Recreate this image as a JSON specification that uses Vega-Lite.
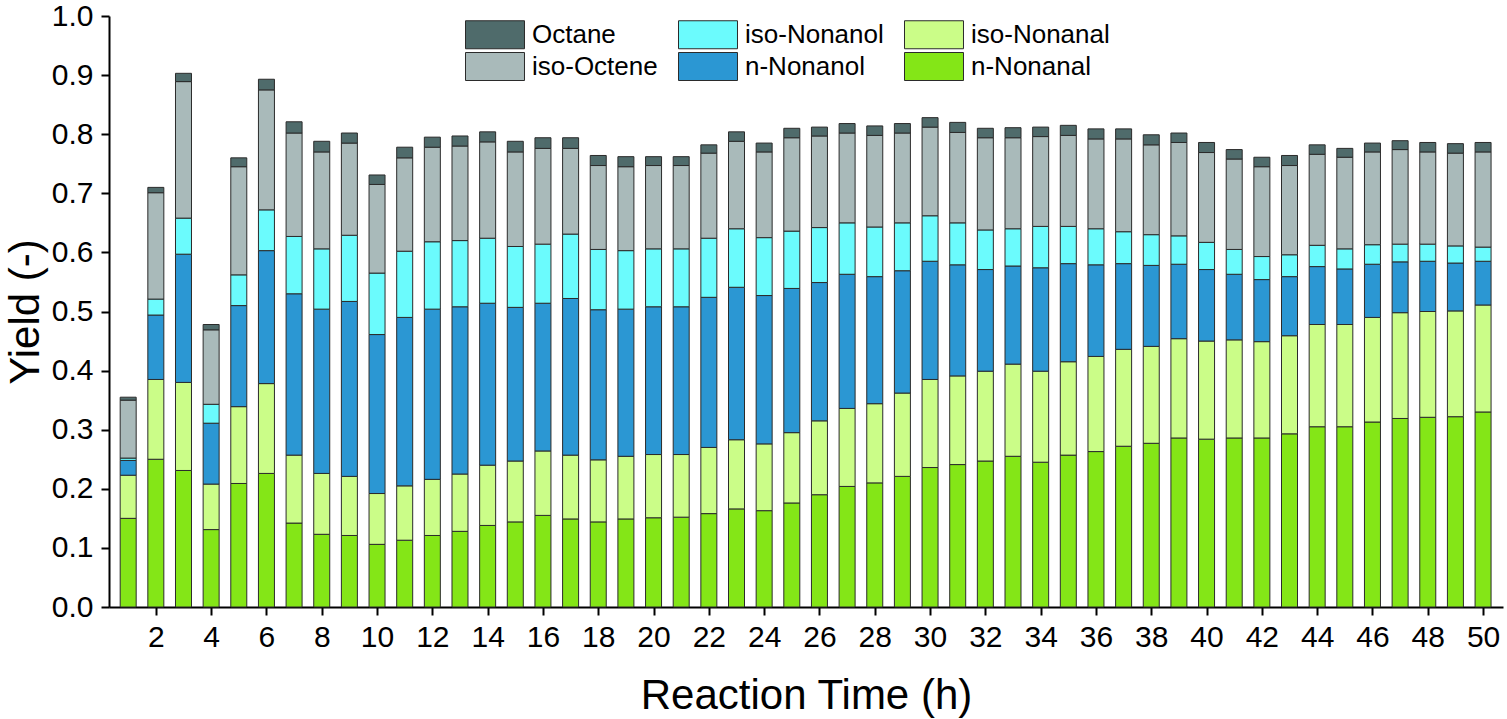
{
  "$schema": "https://vega.github.io/schema/vega-lite/v6.json",
  "description": "Product yields over reaction time, stacked by component.",
  "width": 1394,
  "height": 591,
  "autosize": {"type": "none"},
  "padding": {"left": 109, "top": 16, "right": 4, "bottom": 112},
  "background": "white",
  "datasets": {
    "rank": [
      {"c": "n-Nonanal", "rank": 1},
      {"c": "iso-Nonanal", "rank": 2},
      {"c": "n-Nonanol", "rank": 3},
      {"c": "iso-Nonanol", "rank": 4},
      {"c": "iso-Octene", "rank": 5},
      {"c": "Octane", "rank": 6}
    ]
  },
  "data": {
    "values": [
      {"t": 1, "n-Nonanal": 0.150, "iso-Nonanal": 0.073, "n-Nonanol": 0.025, "iso-Nonanol": 0.004, "iso-Octene": 0.098, "Octane": 0.005},
      {"t": 2, "n-Nonanal": 0.250, "iso-Nonanal": 0.135, "n-Nonanol": 0.109, "iso-Nonanol": 0.027, "iso-Octene": 0.180, "Octane": 0.009},
      {"t": 3, "n-Nonanal": 0.231, "iso-Nonanal": 0.149, "n-Nonanol": 0.217, "iso-Nonanol": 0.061, "iso-Octene": 0.231, "Octane": 0.014},
      {"t": 4, "n-Nonanal": 0.131, "iso-Nonanal": 0.077, "n-Nonanol": 0.103, "iso-Nonanol": 0.032, "iso-Octene": 0.126, "Octane": 0.009},
      {"t": 5, "n-Nonanal": 0.209, "iso-Nonanal": 0.130, "n-Nonanol": 0.171, "iso-Nonanol": 0.052, "iso-Octene": 0.183, "Octane": 0.015},
      {"t": 6, "n-Nonanal": 0.226, "iso-Nonanal": 0.152, "n-Nonanol": 0.225, "iso-Nonanol": 0.069, "iso-Octene": 0.203, "Octane": 0.018},
      {"t": 7, "n-Nonanal": 0.142, "iso-Nonanal": 0.115, "n-Nonanol": 0.273, "iso-Nonanol": 0.097, "iso-Octene": 0.175, "Octane": 0.019},
      {"t": 8, "n-Nonanal": 0.123, "iso-Nonanal": 0.103, "n-Nonanol": 0.278, "iso-Nonanol": 0.102, "iso-Octene": 0.164, "Octane": 0.018},
      {"t": 9, "n-Nonanal": 0.121, "iso-Nonanal": 0.100, "n-Nonanol": 0.296, "iso-Nonanol": 0.112, "iso-Octene": 0.156, "Octane": 0.017},
      {"t": 10, "n-Nonanal": 0.106, "iso-Nonanal": 0.086, "n-Nonanol": 0.269, "iso-Nonanol": 0.104, "iso-Octene": 0.150, "Octane": 0.016},
      {"t": 11, "n-Nonanal": 0.113, "iso-Nonanal": 0.092, "n-Nonanol": 0.285, "iso-Nonanol": 0.112, "iso-Octene": 0.158, "Octane": 0.018},
      {"t": 12, "n-Nonanal": 0.121, "iso-Nonanal": 0.095, "n-Nonanol": 0.288, "iso-Nonanol": 0.114, "iso-Octene": 0.160, "Octane": 0.017},
      {"t": 13, "n-Nonanal": 0.128, "iso-Nonanal": 0.097, "n-Nonanol": 0.283, "iso-Nonanol": 0.112, "iso-Octene": 0.160, "Octane": 0.017},
      {"t": 14, "n-Nonanal": 0.138, "iso-Nonanal": 0.102, "n-Nonanol": 0.274, "iso-Nonanol": 0.110, "iso-Octene": 0.163, "Octane": 0.017},
      {"t": 15, "n-Nonanal": 0.144, "iso-Nonanal": 0.103, "n-Nonanol": 0.260, "iso-Nonanol": 0.103, "iso-Octene": 0.160, "Octane": 0.018},
      {"t": 16, "n-Nonanal": 0.155, "iso-Nonanal": 0.109, "n-Nonanol": 0.250, "iso-Nonanol": 0.100, "iso-Octene": 0.162, "Octane": 0.018},
      {"t": 17, "n-Nonanal": 0.149, "iso-Nonanal": 0.108, "n-Nonanol": 0.265, "iso-Nonanol": 0.109, "iso-Octene": 0.145, "Octane": 0.018},
      {"t": 18, "n-Nonanal": 0.144, "iso-Nonanal": 0.105, "n-Nonanol": 0.254, "iso-Nonanol": 0.102, "iso-Octene": 0.142, "Octane": 0.017},
      {"t": 19, "n-Nonanal": 0.149, "iso-Nonanal": 0.106, "n-Nonanol": 0.249, "iso-Nonanol": 0.099, "iso-Octene": 0.142, "Octane": 0.017},
      {"t": 20, "n-Nonanal": 0.151, "iso-Nonanal": 0.107, "n-Nonanol": 0.250, "iso-Nonanol": 0.098, "iso-Octene": 0.141, "Octane": 0.015},
      {"t": 21, "n-Nonanal": 0.152, "iso-Nonanal": 0.106, "n-Nonanol": 0.250, "iso-Nonanol": 0.098, "iso-Octene": 0.141, "Octane": 0.015},
      {"t": 22, "n-Nonanal": 0.158, "iso-Nonanal": 0.112, "n-Nonanol": 0.254, "iso-Nonanol": 0.100, "iso-Octene": 0.144, "Octane": 0.014},
      {"t": 23, "n-Nonanal": 0.166, "iso-Nonanal": 0.117, "n-Nonanol": 0.258, "iso-Nonanol": 0.099, "iso-Octene": 0.148, "Octane": 0.016},
      {"t": 24, "n-Nonanal": 0.163, "iso-Nonanal": 0.113, "n-Nonanol": 0.251, "iso-Nonanol": 0.098, "iso-Octene": 0.145, "Octane": 0.015},
      {"t": 25, "n-Nonanal": 0.176, "iso-Nonanal": 0.119, "n-Nonanol": 0.244, "iso-Nonanol": 0.097, "iso-Octene": 0.158, "Octane": 0.016},
      {"t": 26, "n-Nonanal": 0.190, "iso-Nonanal": 0.125, "n-Nonanol": 0.234, "iso-Nonanol": 0.093, "iso-Octene": 0.155, "Octane": 0.015},
      {"t": 27, "n-Nonanal": 0.204, "iso-Nonanal": 0.132, "n-Nonanol": 0.227, "iso-Nonanol": 0.087, "iso-Octene": 0.152, "Octane": 0.016},
      {"t": 28, "n-Nonanal": 0.210, "iso-Nonanal": 0.134, "n-Nonanol": 0.215, "iso-Nonanol": 0.084, "iso-Octene": 0.155, "Octane": 0.016},
      {"t": 29, "n-Nonanal": 0.221, "iso-Nonanal": 0.141, "n-Nonanol": 0.207, "iso-Nonanol": 0.081, "iso-Octene": 0.152, "Octane": 0.016},
      {"t": 30, "n-Nonanal": 0.236, "iso-Nonanal": 0.149, "n-Nonanol": 0.200, "iso-Nonanol": 0.077, "iso-Octene": 0.150, "Octane": 0.016},
      {"t": 31, "n-Nonanal": 0.241, "iso-Nonanal": 0.150, "n-Nonanol": 0.188, "iso-Nonanol": 0.071, "iso-Octene": 0.153, "Octane": 0.017},
      {"t": 32, "n-Nonanal": 0.247, "iso-Nonanal": 0.152, "n-Nonanol": 0.172, "iso-Nonanol": 0.067, "iso-Octene": 0.156, "Octane": 0.016},
      {"t": 33, "n-Nonanal": 0.255, "iso-Nonanal": 0.156, "n-Nonanol": 0.166, "iso-Nonanol": 0.063, "iso-Octene": 0.154, "Octane": 0.017},
      {"t": 34, "n-Nonanal": 0.245, "iso-Nonanal": 0.154, "n-Nonanol": 0.175, "iso-Nonanol": 0.070, "iso-Octene": 0.152, "Octane": 0.016},
      {"t": 35, "n-Nonanal": 0.257, "iso-Nonanal": 0.158, "n-Nonanol": 0.166, "iso-Nonanol": 0.063, "iso-Octene": 0.154, "Octane": 0.017},
      {"t": 36, "n-Nonanal": 0.263, "iso-Nonanal": 0.161, "n-Nonanol": 0.155, "iso-Nonanol": 0.061, "iso-Octene": 0.152, "Octane": 0.017},
      {"t": 37, "n-Nonanal": 0.272, "iso-Nonanal": 0.164, "n-Nonanol": 0.145, "iso-Nonanol": 0.054, "iso-Octene": 0.157, "Octane": 0.017},
      {"t": 38, "n-Nonanal": 0.277, "iso-Nonanal": 0.164, "n-Nonanol": 0.137, "iso-Nonanol": 0.052, "iso-Octene": 0.152, "Octane": 0.017},
      {"t": 39, "n-Nonanal": 0.286, "iso-Nonanal": 0.168, "n-Nonanol": 0.126, "iso-Nonanol": 0.048, "iso-Octene": 0.158, "Octane": 0.016},
      {"t": 40, "n-Nonanal": 0.284, "iso-Nonanal": 0.166, "n-Nonanol": 0.121, "iso-Nonanol": 0.046, "iso-Octene": 0.152, "Octane": 0.017},
      {"t": 41, "n-Nonanal": 0.286, "iso-Nonanal": 0.166, "n-Nonanol": 0.111, "iso-Nonanol": 0.042, "iso-Octene": 0.153, "Octane": 0.016},
      {"t": 42, "n-Nonanal": 0.286, "iso-Nonanal": 0.163, "n-Nonanol": 0.105, "iso-Nonanol": 0.039, "iso-Octene": 0.152, "Octane": 0.016},
      {"t": 43, "n-Nonanal": 0.293, "iso-Nonanal": 0.166, "n-Nonanol": 0.100, "iso-Nonanol": 0.037, "iso-Octene": 0.151, "Octane": 0.017},
      {"t": 44, "n-Nonanal": 0.305, "iso-Nonanal": 0.173, "n-Nonanol": 0.098, "iso-Nonanol": 0.036, "iso-Octene": 0.154, "Octane": 0.016},
      {"t": 45, "n-Nonanal": 0.305, "iso-Nonanal": 0.173, "n-Nonanol": 0.094, "iso-Nonanol": 0.034, "iso-Octene": 0.155, "Octane": 0.015},
      {"t": 46, "n-Nonanal": 0.313, "iso-Nonanal": 0.177, "n-Nonanol": 0.090, "iso-Nonanol": 0.033, "iso-Octene": 0.157, "Octane": 0.015},
      {"t": 47, "n-Nonanal": 0.319, "iso-Nonanal": 0.179, "n-Nonanol": 0.086, "iso-Nonanol": 0.030, "iso-Octene": 0.160, "Octane": 0.015},
      {"t": 48, "n-Nonanal": 0.321, "iso-Nonanal": 0.179, "n-Nonanol": 0.085, "iso-Nonanol": 0.029, "iso-Octene": 0.156, "Octane": 0.016},
      {"t": 49, "n-Nonanal": 0.322, "iso-Nonanal": 0.179, "n-Nonanol": 0.081, "iso-Nonanol": 0.029, "iso-Octene": 0.157, "Octane": 0.016},
      {"t": 50, "n-Nonanal": 0.330, "iso-Nonanal": 0.181, "n-Nonanol": 0.074, "iso-Nonanol": 0.024, "iso-Octene": 0.161, "Octane": 0.016}
    ]
  },
  "transform": [
    {"fold": ["n-Nonanal", "iso-Nonanal", "n-Nonanol", "iso-Nonanol", "iso-Octene", "Octane"], "as": ["c", "v"]},
    {"lookup": "c", "from": {"data": {"name": "rank"}, "key": "c", "fields": ["rank"]}}
  ],
  "mark": {"type": "bar", "width": 16, "stroke": "#2b2b2b", "strokeWidth": 1},
  "encoding": {
    "x": {
      "field": "t",
      "type": "quantitative",
      "title": "Reaction Time (h)",
      "scale": {"domain": [0.487, 50.54], "nice": false, "zero": false},
      "axis": {
        "values": [2, 4, 6, 8, 10, 12, 14, 16, 18, 20, 22, 24, 26, 28, 30, 32, 34, 36, 38, 40, 42, 44, 46, 48, 50],
        "format": "d",
        "grid": false,
        "labelPadding": 7,
        "titleBaseline": "alphabetic",
        "titleY": 101
      }
    },
    "y": {
      "field": "v",
      "type": "quantitative",
      "stack": "zero",
      "title": "Yield (-)",
      "scale": {"domain": [0, 1], "nice": false},
      "axis": {
        "values": [0, 0.1, 0.2, 0.3, 0.4, 0.5, 0.6, 0.7, 0.8, 0.9, 1.0],
        "format": ".1f",
        "grid": false,
        "labelPadding": 8,
        "titleBaseline": "alphabetic",
        "titleX": -71
      }
    },
    "color": {
      "field": "c",
      "type": "nominal",
      "scale": {
        "domain": ["Octane", "iso-Octene", "iso-Nonanol", "n-Nonanol", "iso-Nonanal", "n-Nonanal"],
        "range": ["#4f6b6b", "#a9baba", "#6bfbfd", "#2b97d3", "#cbfd88", "#84e617"]
      },
      "legend": {
        "title": null,
        "orient": "none",
        "legendX": 356,
        "legendY": 4,
        "columns": 3,
        "columnPadding": 18,
        "rowPadding": -1,
        "padding": 0,
        "symbolType": "M-1,-1H3.214V1H-1Z",
        "symbolSize": 784,
        "symbolStrokeColor": "#2b2b2b",
        "symbolStrokeWidth": 1,
        "symbolOpacity": 1,
        "labelOffset": 38,
        "labelFontSize": 26,
        "labelFont": "Liberation Sans",
        "labelColor": "#000"
      }
    },
    "order": {"field": "rank", "type": "quantitative", "sort": "ascending"}
  },
  "config": {
    "view": {"stroke": null},
    "axis": {
      "labelFont": "Liberation Sans",
      "labelFontSize": 30,
      "labelColor": "#000",
      "titleFont": "Liberation Sans",
      "titleFontSize": 42,
      "titleFontWeight": "normal",
      "titleColor": "#000",
      "domainColor": "#000",
      "domainWidth": 2,
      "tickColor": "#000",
      "tickWidth": 2,
      "tickSize": 8
    }
  }
}
